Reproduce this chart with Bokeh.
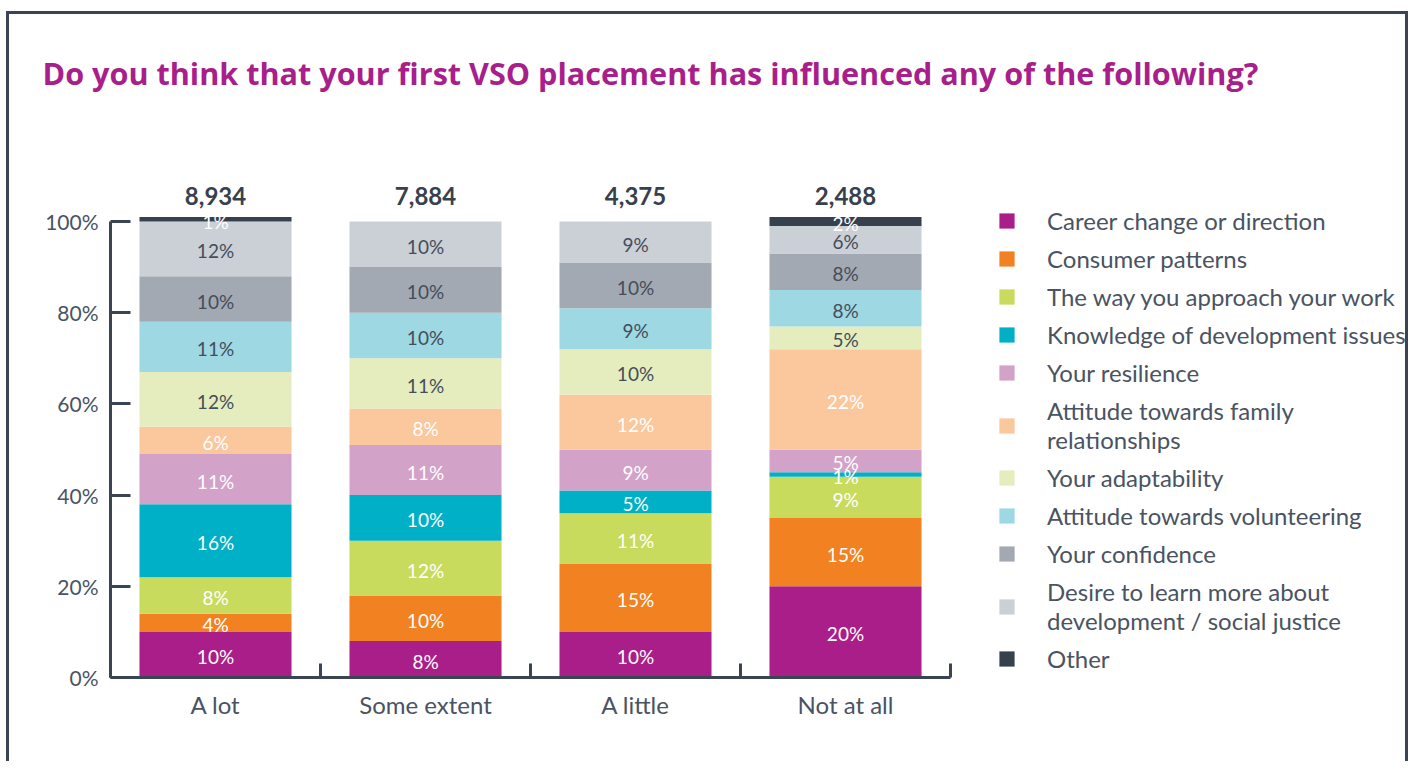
from bokeh.plotting import figure
from bokeh.models import (Range1d, FixedTicker, Legend, LegendItem, ColumnDataSource,
                          PrintfTickFormatter)
from bokeh.embed import file_html
from bokeh.resources import INLINE
from bokeh.core.properties import value

# ---------------- data ----------------
title_text = "Do you think that your first VSO placement has influenced any of the following?"
categories = ["A lot", "Some extent", "A little", "Not at all"]
totals = ["8,934", "7,884", "4,375", "2,488"]
series = ["Career change or direction", "Consumer patterns", "The way you approach your work",
          "Knowledge of development issues", "Your resilience",
          "Attitude towards family\nrelationships", "Your adaptability",
          "Attitude towards volunteering", "Your confidence",
          "Desire to learn more about\ndevelopment / social justice", "Other"]
career = [10, 8, 10, 20]
consumer = [4, 10, 15, 15]
approach = [8, 12, 11, 9]
knowledge = [16, 10, 5, 1]
resilience = [11, 11, 9, 5]
family = [6, 8, 12, 22]
adaptability = [12, 11, 10, 5]
volunteering = [11, 10, 9, 8]
confidence = [10, 10, 10, 8]
desire = [12, 10, 9, 6]
other = [1, 0, 0, 2]
y_ticks = [0, 20, 40, 60, 80, 100]

values = [career, consumer, approach, knowledge, resilience, family,
          adaptability, volunteering, confidence, desire, other]
colors = ["#AA1E8A", "#F28121", "#C8DB5C", "#00B0C6", "#D3A2C8", "#FBC79C",
          "#E5EDBE", "#9DD8E3", "#A2A9B2", "#CBCFD6", "#37414E"]
DARK = "#444d5a"
label_colors = ["white"] * 6 + [DARK] * 4 + ["white"]

FONT = "Lato"
AXIS = "#3b4452"

# ---------------- geometry ----------------
W, H = 1402, 750
ML, MR, MT, MB = 101, 3, 112, 87
PX_X = 210.0   # pixels per category
PX_Y = 4.56    # pixels per percent
frame_w = W - ML - MR
frame_h = H - MT - MB

p = figure(width=W, height=H, output_backend="svg", toolbar_location=None,
           x_range=Range1d(-0.5, -0.5 + frame_w / PX_X),
           y_range=Range1d(0, frame_h / PX_Y),
           min_border_left=ML, min_border_right=MR, min_border_top=MT, min_border_bottom=MB,
           title=title_text)
p.styles = {"border-left": f"3px solid {AXIS}", "border-top": f"3px solid {AXIS}",
            "border-right": f"3px solid {AXIS}", "position": "relative",
            "top": "11px", "left": "6px"}
p.outline_line_color = None
p.xgrid.visible = False
p.ygrid.visible = False

p.title.align = "left"
p.title.offset = -68
p.title.standoff = 66
p.title.text_font = "Open Sans"
p.title.text_font_size = "30.6px"
p.title.text_font_style = "bold"
p.title.text_color = "#A81F8B"

# ---------------- bars ----------------
keys = [f"s{i}" for i in range(len(series))]
xs = list(range(len(categories)))
data = {"x": xs}
for k, v in zip(keys, values):
    data[k] = v
src = ColumnDataSource(data)
renderers = p.vbar_stack(keys, x="x", width=0.724, fill_color=colors, line_color=None,
                         source=src)

# segment labels
lx, ly, lt, lc = [], [], [], []
for ci in range(len(categories)):
    base = 0
    for si, v in enumerate(values):
        val = v[ci]
        if val > 0:
            lx.append(xs[ci])
            ly.append(base + val / 2)
            lt.append(f"{val}%")
            lc.append(label_colors[si])
        base += val
lsrc = ColumnDataSource(dict(x=lx, y=ly, t=lt, c=lc))
p.text(x="x", y="y", text="t", text_color="c", source=lsrc, text_align="center",
       text_baseline="middle", text_font=value(FONT), text_font_size="19px", y_offset=2)

# totals
tsrc = ColumnDataSource(dict(x=xs, y=[100] * len(xs), t=totals))
p.text(x="x", y="y", text="t", source=tsrc, text_align="center", text_baseline="bottom",
       text_font=value(FONT), text_font_size="24px", text_font_style="bold",
       text_color="#37414E", y_offset=-17)

# ---------------- axes ----------------
ya = p.yaxis[0]
ya.ticker = FixedTicker(ticks=y_ticks)
ya.formatter = PrintfTickFormatter(format="%d%%")
ya.bounds = (0, 100)
ya.axis_line_color = AXIS
ya.axis_line_width = 3
ya.major_tick_line_color = AXIS
ya.major_tick_line_width = 3
ya.major_tick_in = 20
ya.major_tick_out = 0
ya.minor_tick_line_color = None
ya.major_label_text_font = FONT
ya.major_label_text_font_size = "21px"
ya.major_label_text_color = "#4a5361"
ya.major_label_standoff = 12

xa = p.xaxis[0]
xa.ticker = FixedTicker(ticks=xs, minor_ticks=[x - 0.5 for x in xs] + [xs[-1] + 0.5])
xa.major_label_overrides = {i: c for i, c in enumerate(categories)}
xa.bounds = (-0.5, xs[-1] + 0.5)
xa.axis_line_color = AXIS
xa.axis_line_width = 3
xa.major_tick_line_color = None
xa.minor_tick_line_color = AXIS
xa.minor_tick_line_width = 3
xa.minor_tick_in = 14
xa.minor_tick_out = 0
xa.major_label_text_font = FONT
xa.major_label_text_font_size = "24px"
xa.major_label_text_color = "#4a5361"
xa.major_label_standoff = 6

# ---------------- legend ----------------
items = [LegendItem(label=s, renderers=[r]) for s, r in zip(series, renderers)]
legend = Legend(items=items, location=(887, 4), orientation="vertical",
                glyph_width=19, glyph_height=19, label_standoff=31,
                label_text_font=FONT, label_text_font_size="24px", label_text_color="#4a5361",
                label_text_line_height=1.1,
                label_height=27, spacing=9, padding=0, margin=0,
                border_line_color=None, background_fill_alpha=0)
p.add_layout(legend, "center")

open("out.html", "w").write(file_html(p, INLINE))
